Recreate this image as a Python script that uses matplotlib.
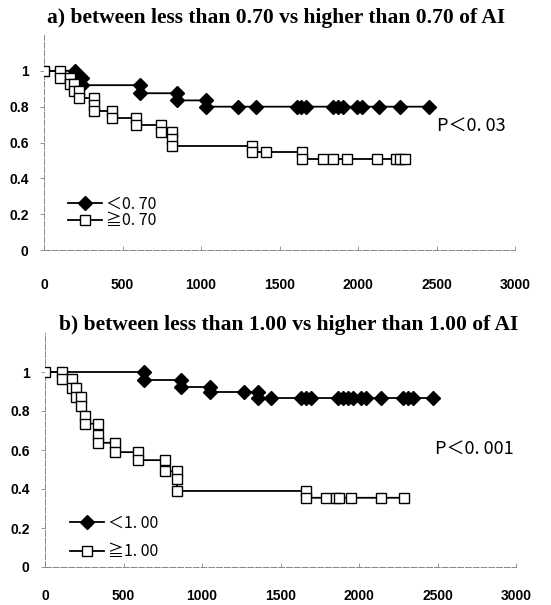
import matplotlib
matplotlib.use("Agg")
import matplotlib.pyplot as plt

# ---- Panel a: AI < 0.70 (filled diamonds) ----
a_low_t = [0, 195, 245, 245, 614, 614, 849, 849, 1029, 1029, 1233, 1348,
           1610, 1640, 1670, 1841, 1873, 1904, 1994, 2025, 2134, 2268, 2452]
a_low_s = [1.0, 1.0, 0.96, 0.92, 0.92, 0.875, 0.875, 0.835, 0.835, 0.80, 0.80, 0.80,
           0.80, 0.80, 0.80, 0.80, 0.80, 0.80, 0.80, 0.80, 0.80, 0.80, 0.80]
# ---- Panel a: AI >= 0.70 (open squares) ----
a_high_t = [0, 101, 101, 164, 164, 190, 190, 220, 220, 321, 321, 321, 432, 432,
            583, 583, 746, 746, 818, 818, 818, 1327, 1327, 1411, 1645, 1645,
            1779, 1841, 1929, 2121, 2240, 2270, 2300]
a_high_s = [1.0, 1.0, 0.96, 0.96, 0.925, 0.925, 0.885, 0.885, 0.85, 0.85, 0.81, 0.775,
            0.775, 0.735, 0.735, 0.695, 0.695, 0.66, 0.66, 0.62, 0.583, 0.583, 0.547,
            0.547, 0.547, 0.51, 0.51, 0.51, 0.51, 0.51, 0.51, 0.51, 0.51]

# ---- Panel b: AI < 1.00 (filled diamonds) ----
b_low_t = [0, 633, 633, 866, 866, 1053, 1053, 1266, 1355, 1355, 1439,
           1631, 1662, 1694, 1866, 1898, 1930, 1962, 2013, 2045, 2140, 2280, 2312, 2344, 2471]
b_low_s = [1.0, 1.0, 0.958, 0.958, 0.925, 0.925, 0.90, 0.90, 0.90, 0.865, 0.865,
           0.865, 0.865, 0.865, 0.865, 0.865, 0.865, 0.865, 0.865, 0.865, 0.865, 0.865,
           0.865, 0.865, 0.865]
# ---- Panel b: AI >= 1.00 (open squares) ----
b_high_t = [0, 106, 106, 170, 170, 197, 197, 229, 229, 257, 257, 335, 335, 335,
            446, 446, 594, 594, 764, 764, 841, 841, 841, 1662, 1662,
            1790, 1853, 1873, 1949, 2140, 2287]
b_high_s = [1.0, 1.0, 0.963, 0.963, 0.919, 0.919, 0.873, 0.873, 0.824, 0.776, 0.735,
            0.735, 0.678, 0.637, 0.637, 0.589, 0.589, 0.548, 0.548, 0.491, 0.491, 0.45,
            0.39, 0.39, 0.355, 0.355, 0.355, 0.355, 0.355, 0.355, 0.355]

titles = ["a) between less than 0.70 vs higher than 0.70 of AI",
          "b) between less than 1.00 vs higher than 1.00 of AI"]
low_labels = ["＜0. 70", "＜1. 00"]
high_labels = ["≧0. 70", "≧1. 00"]
p_texts = ["P＜0. 03", "P＜0. 001"]
x_ticks = [0, 500, 1000, 1500, 2000, 2500, 3000]
y_ticks = [0, 0.2, 0.4, 0.6, 0.8, 1]
y_ticklabels = ["0", "0.2", "0.4", "0.6", "0.8", "1"]

cjk = ["Noto Sans CJK JP", "DejaVu Sans"]

fig = plt.figure(figsize=(5.51, 6.05), dpi=100)
W, H = 551, 605

panels = [
    dict(rect=(44 / W, 1 - 250 / H, 471 / W, 215 / H), data=(a_low_t, a_low_s, a_high_t, a_high_s),
         title_xy=(276 / W, 1 - 18 / H), p_xy=(2503, 0.69), xpad=20,
         leg=dict(anchor=(0.051, 0.174), spacing=-0.02)),
    dict(rect=(45 / W, 1 - 567 / H, 471 / W, 234 / H), data=(b_low_t, b_low_s, b_high_t, b_high_s),
         title_xy=(289 / W, 1 - 325 / H), p_xy=(2484, 0.60), xpad=16,
         leg=dict(anchor=(0.053, 0.126), spacing=0.72)),
]

for i, p in enumerate(panels):
    ax = fig.add_axes(p["rect"])
    lt, ls, ht, hs = p["data"]
    ax.plot(lt, ls, color="black", lw=1.3, marker="D", ms=7.5, mfc="black", mec="black",
            markevery=list(range(1, len(lt))), label=low_labels[i], zorder=3)
    ax.plot(ht, hs, color="black", lw=1.3, marker="s", ms=7.5, mfc="white", mec="black",
            mew=1.0, label=high_labels[i], zorder=4)
    ax.set_xlim(0, 3000)
    ax.set_ylim(0, 1.2)
    ax.set_xticks(x_ticks)
    ax.set_xticklabels([str(v) for v in x_ticks], fontfamily="Liberation Sans",
                       fontweight="bold", fontsize=10)
    ax.set_yticks(y_ticks)
    ax.set_yticklabels(y_ticklabels, fontfamily="Liberation Sans", fontweight="bold",
                       fontsize=10)
    ax.tick_params(axis="x", length=3, width=0.6, pad=p["xpad"], colors="#888888",
                   labelcolor="black", direction="in")
    ax.tick_params(axis="y", length=3, width=0.6, pad=8, colors="#888888",
                   labelcolor="black", direction="out")
    for s in ["top", "right"]:
        ax.spines[s].set_visible(False)
    for s in ["left", "bottom"]:
        ax.spines[s].set_color("#888888")
        ax.spines[s].set_linewidth(0.7)
        ax.spines[s].set_linestyle((0, (6, 2)))
    ax.legend(loc="center left", bbox_to_anchor=p["leg"]["anchor"], frameon=False,
              borderpad=0, borderaxespad=0, handlelength=2.1, handletextpad=0.3,
              labelspacing=p["leg"]["spacing"], numpoints=1,
              prop={"family": cjk, "size": 11.5})
    ax.text(p["p_xy"][0], p["p_xy"][1], p_texts[i], fontfamily=cjk, fontsize=13,
            ha="left", va="center")
    fig.text(p["title_xy"][0], p["title_xy"][1], titles[i], fontfamily="Liberation Serif",
             fontweight="bold", fontsize=15.5, ha="center", va="center")

fig.savefig("out.png", dpi=100)
